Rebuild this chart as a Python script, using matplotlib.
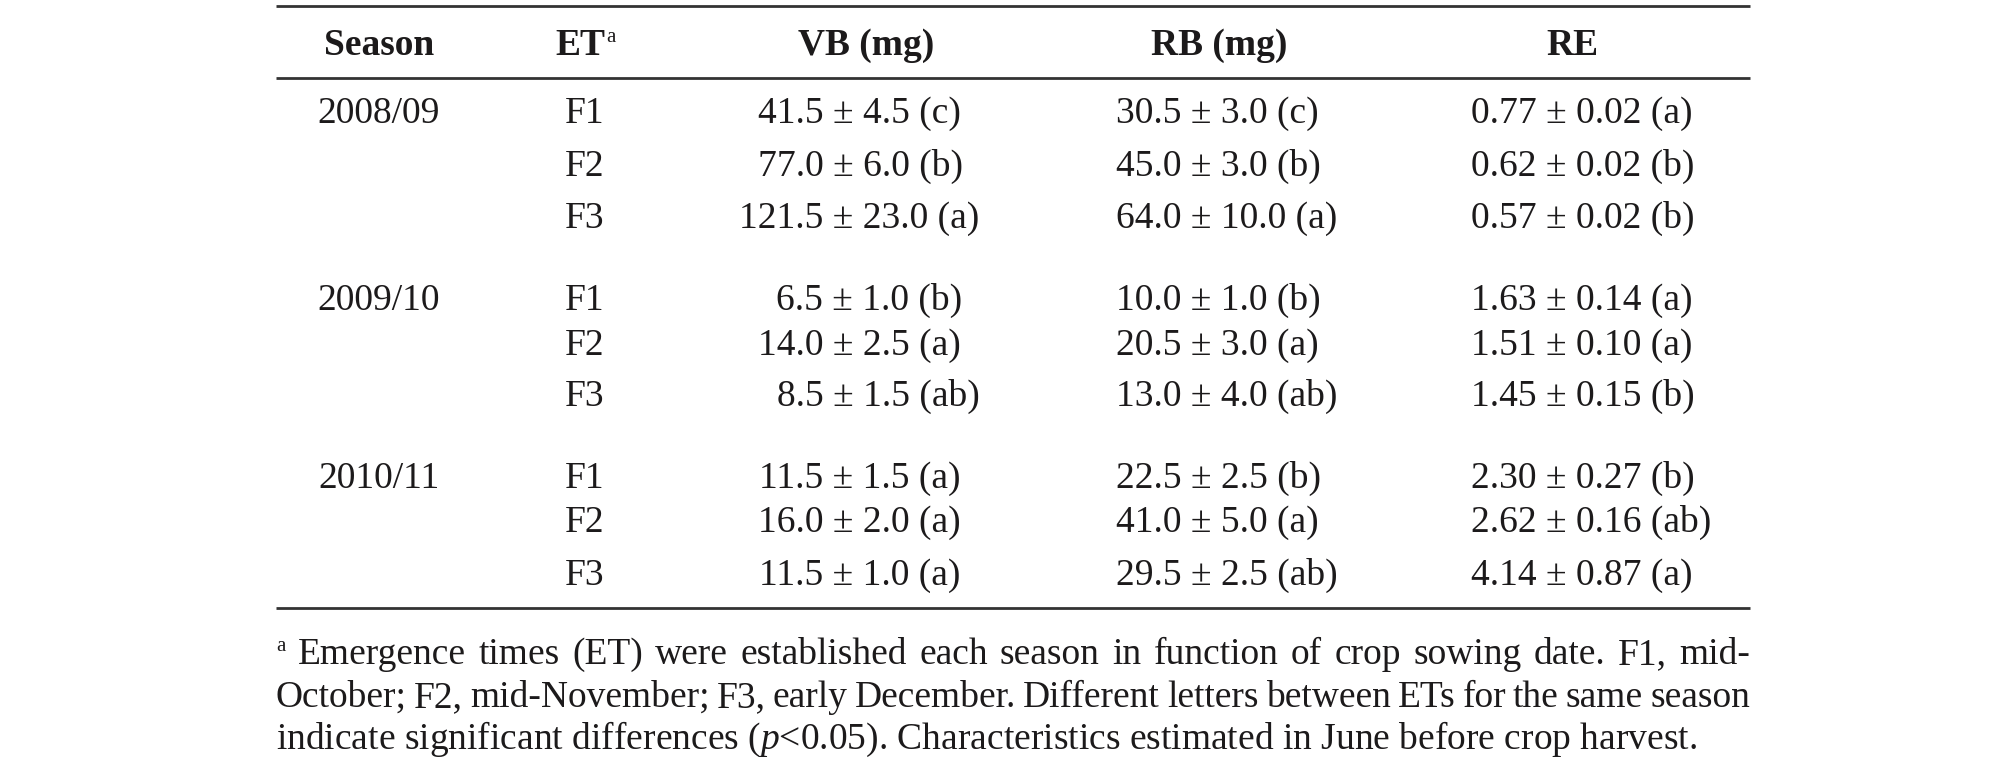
import matplotlib
matplotlib.use("Agg")
import matplotlib.pyplot as plt

# table values (mean ± se, letter groups)
seasons = ["2008/09", "2009/10", "2010/11"]
emergence = ["F1", "F2", "F3"]
vb_mean = [41.5, 77.0, 121.5, 6.5, 14.0, 8.5, 11.5, 16.0, 11.5]
vb_se = [4.5, 6.0, 23.0, 1.0, 2.5, 1.5, 1.5, 2.0, 1.0]
vb_group = ["c", "b", "a", "b", "a", "ab", "a", "a", "a"]
rb_mean = [30.5, 45.0, 64.0, 10.0, 20.5, 13.0, 22.5, 41.0, 29.5]
rb_se = [3.0, 3.0, 10.0, 1.0, 3.0, 4.0, 2.5, 5.0, 2.5]
rb_group = ["c", "b", "a", "b", "a", "ab", "b", "a", "ab"]
re_mean = [0.77, 0.62, 0.57, 1.63, 1.51, 1.45, 2.30, 2.62, 4.14]
re_se = [0.02, 0.02, 0.02, 0.14, 0.10, 0.15, 0.27, 0.16, 0.87]
re_group = ["a", "b", "b", "a", "a", "b", "b", "ab", "a"]

headers = ["Season", "ET", "VB (mg)", "RB (mg)", "RE"]
footnote = [
    "Emergence times (ET) were established each season in function of crop sowing date. F1, mid-",
    "October; F2, mid-November; F3, early December. Different letters between ETs for the same season",
    r"indicate significant differences ($p$<0.05). Characteristics estimated in June before crop harvest.",
]

plt.rcParams["font.family"] = ["Liberation Serif", "DejaVu Serif"]
plt.rcParams["mathtext.fontset"] = "custom"
plt.rcParams["mathtext.rm"] = "Liberation Serif"
plt.rcParams["mathtext.it"] = "Liberation Serif:italic"

W, H = 2012, 761
INK = "#1c1a1b"
FS = 27
FS_NOTE = 27

fig = plt.figure(figsize=(W / 100, H / 100), dpi=100)
ax = fig.add_axes([0, 0, 1, 1])
ax.set_xlim(0, W)
ax.set_ylim(H, 0)
ax.axis("off")
renderer = fig.canvas.get_renderer()


def width_of(s, **kw):
    t = ax.text(0, 0, s, **kw)
    w = t.get_window_extent(renderer).width
    t.remove()
    return w


# layout
left, right = 276, 1750
x_season, x_et = 379, 585
x_pm = {"vb": 843, "rb": 1201, "re": 1556}
x_head = [379, 585, 866, 1219, 1572]
y_head = 55
row_base = [123, 176, 228, 310, 355, 406, 488, 532, 585]
note_base = [664, 707, 749]

for y in [6, 78, 608]:
    ax.plot([left, right], [y, y], color="#333333", lw=2.0, solid_capstyle="butt")

# header row
for i, h in enumerate(headers):
    if h == "ET":
        w_et = width_of("ET", fontsize=FS, fontweight="bold")
        w_a = width_of("a", fontsize=15)
        x0 = x_head[i] - (w_et + w_a) / 2
        ax.text(x0, y_head, "ET", fontsize=FS, fontweight="bold", color=INK,
                ha="left", va="baseline")
        ax.text(x0 + w_et + 1, y_head - 13, "a", fontsize=15, color=INK,
                ha="left", va="baseline")
    else:
        ax.text(x_head[i], y_head, h, fontsize=FS, fontweight="bold", color=INK,
                ha="center", va="baseline")

# body
cols = [("vb", vb_mean, vb_se, vb_group, "{:.1f}"),
        ("rb", rb_mean, rb_se, rb_group, "{:.1f}"),
        ("re", re_mean, re_se, re_group, "{:.2f}")]
w_pm = width_of("±", fontsize=FS)
for r in range(len(vb_mean)):
    y = row_base[r]
    if r % 3 == 0:
        ax.text(x_season, y, seasons[r // 3], fontsize=FS, color=INK,
                ha="center", va="baseline")
    ax.text(x_et, y, emergence[r % 3], fontsize=FS, color=INK,
            ha="center", va="baseline")
    for key, mean, se, grp, fmt in cols:
        m = fmt.format(mean[r])
        s = f"{m} ± {fmt.format(se[r])} ({grp[r]})"
        lead = width_of(m + " ±", fontsize=FS) - w_pm / 2
        ax.text(x_pm[key] - lead, y, s, fontsize=FS, color=INK,
                ha="left", va="baseline")

# footnote, first two lines justified
ax.text(left, note_base[0] - 13, "a", fontsize=15, color=INK, ha="left", va="baseline")
for k, line in enumerate(footnote):
    y = note_base[k]
    x_start = left + (22 if k == 0 else 0)
    if k < 2:
        words = line.split(" ")
        widths = [width_of(wd, fontsize=FS_NOTE) for wd in words]
        gap = (right - x_start - sum(widths)) / (len(words) - 1)
        x = x_start
        for wd, ww in zip(words, widths):
            ax.text(x, y, wd, fontsize=FS_NOTE, color=INK, ha="left", va="baseline")
            x += ww + gap
    else:
        ax.text(x_start, y, line, fontsize=FS_NOTE, color=INK, ha="left", va="baseline")

fig.savefig("out.png", dpi=100, facecolor="white")
